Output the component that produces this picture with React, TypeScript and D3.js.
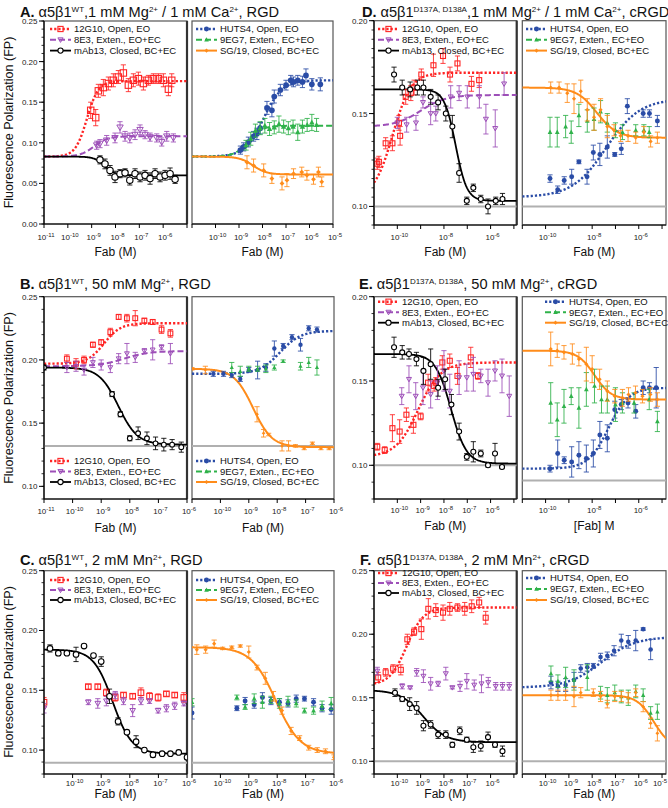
import React from "react";
import * as d3 from "d3";

type Pt = [number, number, number]; // [log10 conc (M), FP, error]
type Fit = [number, number, number, number]; // [FP at low conc, FP at high conc, logEC50, hill]

// ---------- Panel A (WT, 1 mM Mg / 1 mM Ca, RGD) ----------
const A_L_12G10: Pt[] = [[-9.04,0.140,0.010],[-8.83,0.131,0.010],[-8.72,0.164,0.008],[-8.51,0.168,0.010],[-8.30,0.173,0.008],[-8.09,0.177,0.008],[-7.88,0.181,0.008],[-7.67,0.186,0.010],[-7.46,0.171,0.008],[-7.25,0.177,0.008],[-7.04,0.179,0.008],[-6.83,0.173,0.008],[-6.62,0.177,0.006],[-6.41,0.179,0.006],[-6.20,0.179,0.006],[-5.99,0.177,0.008],[-5.78,0.166,0.008],[-5.64,0.177,0.008]];
const A_L_8E3: Pt[] = [[-8.79,0.097,0.005],[-8.65,0.099,0.005],[-8.37,0.103,0.006],[-8.02,0.106,0.006],[-7.81,0.119,0.007],[-7.6,0.108,0.006],[-7.4,0.106,0.006],[-7.18,0.110,0.006],[-6.97,0.116,0.006],[-6.76,0.110,0.005],[-6.55,0.107,0.005],[-6.27,0.106,0.005],[-6.06,0.101,0.005],[-5.85,0.108,0.006],[-5.57,0.106,0.005]];
const A_L_MAB13: Pt[] = [[-8.65,0.079,0.005],[-8.44,0.074,0.006],[-8.23,0.066,0.006],[-8.02,0.058,0.007],[-7.81,0.062,0.005],[-7.6,0.063,0.005],[-7.4,0.054,0.006],[-7.18,0.062,0.006],[-6.97,0.058,0.006],[-6.76,0.060,0.006],[-6.55,0.056,0.007],[-6.34,0.062,0.006],[-6.13,0.058,0.006],[-5.92,0.060,0.006],[-5.71,0.062,0.007],[-5.5,0.055,0.005]];
const A_R_HUTS4: Pt[] = [[-8.94,0.091,0.005],[-8.8,0.095,0.005],[-8.6,0.101,0.006],[-8.38,0.108,0.006],[-8.24,0.111,0.007],[-8.1,0.118,0.007],[-7.81,0.143,0.008],[-7.6,0.140,0.008],[-7.5,0.157,0.008],[-7.24,0.165,0.007],[-7.0,0.171,0.006],[-6.8,0.177,0.006],[-6.68,0.175,0.006],[-6.5,0.177,0.006],[-6.3,0.175,0.007],[-6.15,0.183,0.008],[-5.9,0.172,0.007],[-5.54,0.172,0.008]];
const A_R_9EG7: Pt[] = [[-8.7,0.097,0.006],[-8.5,0.105,0.008],[-8.3,0.115,0.008],[-8.1,0.118,0.008],[-7.9,0.121,0.009],[-7.7,0.117,0.008],[-7.5,0.119,0.008],[-7.3,0.123,0.010],[-7.1,0.120,0.008],[-6.9,0.118,0.008],[-6.7,0.120,0.008],[-6.5,0.113,0.010],[-6.3,0.120,0.008],[-6.1,0.122,0.008],[-5.9,0.125,0.010],[-5.7,0.122,0.008]];
const A_R_SG19: Pt[] = [[-8.66,0.076,0.008],[-8.38,0.072,0.008],[-7.95,0.066,0.008],[-7.6,0.056,0.006],[-7.17,0.050,0.008],[-6.96,0.054,0.008],[-6.68,0.062,0.006],[-6.33,0.064,0.006],[-6.11,0.060,0.006],[-5.83,0.055,0.006],[-5.62,0.064,0.006],[-5.48,0.052,0.006]];
const FIT_A_L_12G10: Fit = [0.083, 0.176, -9.2, 1.8];
const FIT_A_L_8E3: Fit = [0.083, 0.108, -8.9, 1.5];
const FIT_A_L_MAB13: Fit = [0.083, 0.060, -8.45, 2.0];
const FIT_A_R_HUTS4: Fit = [0.083, 0.177, -7.95, 1.1];
const FIT_A_R_9EG7: Fit = [0.083, 0.121, -8.6, 1.5];
const FIT_A_R_SG19: Fit = [0.083, 0.061, -8.4, 1.5];

// ---------- Panel B (WT, 50 mM Mg, RGD) ----------
const B_L_12G10: Pt[] = [[-10.2,0.201,0.003],[-9.88,0.197,0.004],[-9.6,0.200,0.003],[-9.29,0.212,0.002],[-9.0,0.214,0.002],[-8.68,0.222,0.003],[-8.39,0.234,0.002],[-8.1,0.233,0.003],[-7.81,0.233,0.006],[-7.49,0.231,0.002],[-7.2,0.230,0.002],[-6.89,0.224,0.003],[-6.58,0.221,0.003]];
const B_L_8E3: Pt[] = [[-10.2,0.194,0.004],[-9.88,0.195,0.004],[-9.6,0.192,0.004],[-9.29,0.198,0.004],[-9.0,0.196,0.004],[-8.68,0.194,0.004],[-8.39,0.201,0.004],[-8.1,0.205,0.008],[-7.81,0.202,0.004],[-7.49,0.207,0.002],[-7.2,0.208,0.008],[-6.89,0.210,0.002],[-6.58,0.205,0.008]];
const B_L_MAB13: Pt[] = [[-11.0,0.194,0.002],[-8.62,0.173,0.002],[-8.33,0.157,0.002],[-8.0,0.138,0.002],[-7.71,0.142,0.005],[-7.4,0.138,0.005],[-7.1,0.134,0.005],[-6.81,0.133,0.005],[-6.52,0.133,0.004],[-6.2,0.131,0.004]];
const B_R_HUTS4: Pt[] = [[-10.25,0.189,0.002],[-9.89,0.189,0.002],[-9.6,0.188,0.002],[-9.3,0.185,0.002],[-9.0,0.192,0.002],[-8.69,0.192,0.007],[-8.4,0.194,0.003],[-8.1,0.209,0.006],[-7.79,0.211,0.002],[-7.48,0.218,0.002],[-7.18,0.212,0.005],[-6.89,0.225,0.002],[-6.6,0.224,0.002]];
const B_R_9EG7: Pt[] = [[-9.6,0.194,0.004],[-9.3,0.191,0.004],[-9.0,0.193,0.002],[-8.69,0.193,0.002],[-8.4,0.193,0.003],[-8.1,0.194,0.002],[-7.79,0.199,0.001],[-7.18,0.195,0.003],[-6.89,0.198,0.004],[-6.6,0.194,0.006]];
const B_R_SG19: Pt[] = [[-11.0,0.193,0.001],[-10.53,0.192,0.003],[-8.71,0.157,0.006],[-8.48,0.142,0.003],[-8.3,0.141,0.001],[-7.83,0.132,0.004],[-7.6,0.132,0.004],[-7.36,0.132,0.001],[-7.05,0.130,0.001],[-6.76,0.134,0.001],[-6.46,0.130,0.001],[-6.17,0.130,0.001]];
const FIT_B_L_12G10: Fit = [0.197, 0.229, -8.9, 1.5];
const FIT_B_L_8E3: Fit = [0.195, 0.207, -8.2, 1.0];
const FIT_B_L_MAB13: Fit = [0.194, 0.133, -8.4, 1.3];
const FIT_B_R_HUTS4: Fit = [0.189, 0.223, -7.9, 1.2];
const FIT_B_R_SG19: Fit = [0.193, 0.131, -8.85, 1.3];

// ---------- Panel C (WT, 2 mM Mn, RGD) ----------
const C_L_12G10: Pt[] = [[-11.0,0.140,0.004],[-9.45,0.153,0.002],[-9.12,0.153,0.002],[-8.82,0.148,0.003],[-8.51,0.144,0.003],[-8.22,0.146,0.002],[-7.9,0.145,0.002],[-7.61,0.148,0.004],[-7.31,0.145,0.003],[-7.01,0.144,0.003],[-6.72,0.147,0.002],[-6.43,0.146,0.002],[-6.11,0.144,0.004]];
const C_L_8E3: Pt[] = [[-11.0,0.135,0.004],[-9.45,0.140,0.002],[-9.12,0.139,0.004],[-8.82,0.141,0.004],[-8.51,0.146,0.003],[-8.22,0.141,0.003],[-7.9,0.133,0.005],[-7.61,0.141,0.003],[-7.31,0.141,0.002],[-7.01,0.133,0.002],[-6.72,0.135,0.003],[-6.43,0.137,0.003],[-6.11,0.139,0.002]];
const C_L_MAB13: Pt[] = [[-10.79,0.185,0.003],[-10.5,0.181,0.002],[-10.2,0.181,0.001],[-9.88,0.180,0.006],[-9.6,0.187,0.001],[-9.27,0.179,0.001],[-9.0,0.174,0.004],[-8.71,0.145,0.006],[-8.41,0.124,0.003],[-8.1,0.115,0.001],[-7.78,0.107,0.005],[-7.49,0.100,0.001],[-7.19,0.096,0.002],[-6.87,0.097,0.001],[-6.58,0.097,0.001],[-6.29,0.098,0.001],[-6.0,0.094,0.002]];
const C_R_SG19: Pt[] = [[-10.83,0.184,0.004],[-10.52,0.184,0.003],[-10.22,0.189,0.003],[-9.92,0.185,0.001],[-9.6,0.186,0.001],[-9.3,0.187,0.001],[-9.0,0.182,0.005],[-8.71,0.169,0.002],[-8.42,0.160,0.005],[-8.13,0.145,0.004],[-7.83,0.133,0.003],[-7.51,0.116,0.003],[-7.21,0.110,0.002],[-6.89,0.102,0.002],[-6.59,0.100,0.002],[-6.3,0.099,0.002],[-6.0,0.094,0.002]];
const C_R_HUTS4: Pt[] = [[-11.0,0.131,0.005],[-9.42,0.135,0.002],[-9.13,0.141,0.003],[-8.81,0.138,0.003],[-8.52,0.144,0.004],[-8.22,0.141,0.003],[-7.92,0.140,0.003],[-7.62,0.139,0.003],[-7.33,0.143,0.003],[-7.04,0.143,0.002],[-6.72,0.140,0.003],[-6.42,0.135,0.003],[-6.1,0.134,0.004]];
const C_R_9EG7: Pt[] = [[-11.0,0.140,0.003],[-9.42,0.144,0.002],[-9.13,0.136,0.002],[-8.81,0.143,0.004],[-8.52,0.140,0.005],[-8.22,0.142,0.003],[-7.92,0.139,0.004],[-7.62,0.141,0.004],[-7.33,0.139,0.003],[-7.04,0.133,0.002],[-6.72,0.133,0.003],[-6.42,0.137,0.004],[-6.1,0.139,0.005]];
const FIT_C_L_MAB13: Fit = [0.184, 0.097, -8.6, 1.3];
const FIT_C_R_SG19: Fit = [0.186, 0.097, -8.05, 1.0];

// ---------- Panel D (D137A/D138A, 1 mM Mg / 1 mM Ca, cRGD) ----------
const D_L_12G10: Pt[] = [[-10.86,0.123,0.003],[-10.79,0.124,0.003],[-10.5,0.134,0.003],[-10.21,0.134,0.004],[-9.93,0.145,0.004],[-9.88,0.138,0.005],[-9.64,0.159,0.004],[-9.42,0.161,0.004],[-9.28,0.164,0.004],[-8.97,0.171,0.003],[-8.45,0.176,0.006],[-8.04,0.181,0.004],[-7.74,0.171,0.004],[-7.42,0.177,0.004],[-6.82,0.166,0.004],[-6.49,0.168,0.004]];
const D_L_8E3: Pt[] = [[-10.0,0.145,0.003],[-9.6,0.144,0.004],[-9.2,0.145,0.004],[-8.9,0.156,0.003],[-8.57,0.150,0.006],[-8.35,0.150,0.004],[-7.71,0.159,0.006],[-7.35,0.161,0.004],[-7.0,0.159,0.006],[-6.48,0.159,0.006],[-6.2,0.147,0.008],[-5.8,0.142,0.010],[-5.42,0.166,0.006]];
const D_L_MAB13: Pt[] = [[-10.14,0.171,0.004],[-9.79,0.164,0.004],[-9.45,0.163,0.004],[-9.14,0.164,0.004],[-8.88,0.164,0.004],[-8.57,0.159,0.004],[-8.25,0.156,0.004],[-7.92,0.150,0.004],[-7.64,0.143,0.006],[-7.35,0.118,0.005],[-7.02,0.103,0.002],[-6.74,0.110,0.002],[-6.42,0.104,0.002],[-6.11,0.100,0.004],[-5.78,0.103,0.002],[-5.49,0.104,0.003]];
const D_R_SG19: Pt[] = [[-9.78,0.164,0.003],[-9.42,0.164,0.003],[-9.07,0.161,0.005],[-8.78,0.158,0.008],[-8.49,0.162,0.006],[-8.21,0.152,0.006],[-7.92,0.148,0.007],[-7.64,0.152,0.006],[-7.35,0.143,0.006],[-7.06,0.141,0.003],[-6.78,0.138,0.003],[-6.46,0.138,0.003],[-6.13,0.137,0.003],[-5.78,0.140,0.003],[-5.49,0.135,0.003],[-5.2,0.137,0.003]];
const D_R_9EG7: Pt[] = [[-9.81,0.140,0.008],[-9.5,0.140,0.008],[-9.14,0.143,0.006],[-8.9,0.140,0.006],[-8.57,0.149,0.006],[-8.21,0.146,0.006],[-7.92,0.147,0.006],[-7.64,0.151,0.006],[-7.35,0.145,0.005],[-7.0,0.141,0.004],[-6.7,0.140,0.004],[-6.13,0.141,0.003],[-5.78,0.141,0.003],[-5.55,0.140,0.003]];
const D_R_HUTS4: Pt[] = [[-9.81,0.115,0.002],[-9.48,0.109,0.002],[-9.2,0.114,0.002],[-8.88,0.116,0.004],[-8.57,0.124,0.001],[-8.22,0.116,0.004],[-7.95,0.129,0.004],[-7.67,0.128,0.006],[-7.35,0.132,0.006],[-7.03,0.128,0.001],[-6.75,0.131,0.003],[-6.49,0.154,0.004],[-5.81,0.150,0.002],[-5.54,0.150,0.002],[-5.2,0.146,0.003]];
const FIT_D_L_12G10: Fit = [0.105, 0.172, -10.2, 1.1];
const FIT_D_L_8E3: Fit = [0.143, 0.160, -9.0, 0.8];
const FIT_D_L_MAB13: Fit = [0.163, 0.103, -7.5, 1.8];
const FIT_D_R_SG19: Fit = [0.164, 0.137, -7.8, 1.0];
const FIT_D_R_HUTS4: Fit = [0.105, 0.158, -7.4, 0.6];

// ---------- Panel E (D137A/D138A, 50 mM Mg, cRGD) ----------
const E_L_12G10: Pt[] = [[-10.86,0.111,0.002],[-10.54,0.109,0.002],[-10.21,0.122,0.008],[-9.9,0.120,0.007],[-9.61,0.130,0.004],[-9.31,0.124,0.005],[-9.0,0.129,0.002],[-8.68,0.149,0.005],[-8.42,0.147,0.003],[-8.35,0.149,0.003],[-8.07,0.161,0.004],[-7.75,0.162,0.004],[-7.42,0.153,0.005],[-6.85,0.164,0.006],[-6.54,0.153,0.002]];
const E_L_8E3: Pt[] = [[-9.81,0.141,0.005],[-9.5,0.151,0.008],[-9.21,0.141,0.008],[-8.9,0.146,0.010],[-8.57,0.142,0.008],[-8.28,0.149,0.010],[-8.0,0.156,0.012],[-7.75,0.144,0.010],[-7.35,0.152,0.010],[-7.02,0.152,0.008],[-6.74,0.154,0.010],[-6.42,0.153,0.004],[-6.11,0.149,0.008],[-5.81,0.156,0.006],[-5.51,0.153,0.010],[-5.2,0.141,0.012]];
const E_L_MAB13: Pt[] = [[-10.14,0.170,0.006],[-9.79,0.167,0.004],[-9.5,0.166,0.003],[-9.18,0.163,0.004],[-8.88,0.156,0.008],[-8.57,0.160,0.009],[-8.25,0.146,0.005],[-7.95,0.151,0.006],[-7.68,0.136,0.006],[-7.35,0.120,0.005],[-7.02,0.105,0.002],[-6.74,0.108,0.006],[-6.42,0.107,0.002],[-6.11,0.100,0.001],[-5.81,0.107,0.006],[-5.51,0.099,0.001]];
const E_R_SG19: Pt[] = [[-9.78,0.169,0.010],[-9.5,0.168,0.004],[-9.21,0.167,0.004],[-8.85,0.166,0.006],[-8.57,0.163,0.004],[-8.25,0.160,0.010],[-8.0,0.157,0.008],[-7.68,0.151,0.006],[-7.35,0.144,0.006],[-7.03,0.141,0.004],[-6.7,0.140,0.005],[-6.44,0.142,0.004],[-6.14,0.143,0.004],[-5.84,0.141,0.004],[-5.5,0.142,0.004],[-5.2,0.139,0.004]];
const E_R_9EG7: Pt[] = [[-9.78,0.137,0.012],[-9.5,0.127,0.010],[-9.21,0.135,0.010],[-8.9,0.141,0.005],[-8.57,0.134,0.012],[-8.25,0.145,0.010],[-7.9,0.147,0.010],[-7.6,0.139,0.008],[-7.35,0.139,0.008],[-7.0,0.136,0.010],[-6.7,0.137,0.006],[-6.2,0.137,0.006],[-5.55,0.139,0.006],[-5.2,0.126,0.006]];
const E_R_HUTS4: Pt[] = [[-9.81,0.098,0.002],[-9.48,0.107,0.008],[-9.2,0.103,0.002],[-8.88,0.102,0.009],[-8.57,0.106,0.008],[-8.25,0.104,0.008],[-7.95,0.107,0.008],[-7.67,0.118,0.008],[-7.35,0.116,0.008],[-7.03,0.133,0.005],[-6.75,0.136,0.003],[-6.46,0.137,0.003],[-6.13,0.132,0.004],[-5.81,0.146,0.004],[-5.54,0.146,0.003],[-5.25,0.146,0.012]];
const FIT_E_L_12G10: Fit = [0.105, 0.161, -9.1, 0.9];
const FIT_E_L_MAB13: Fit = [0.166, 0.101, -7.7, 1.3];
const FIT_E_R_SG19: Fit = [0.168, 0.139, -7.9, 1.2];
const FIT_E_R_HUTS4: Fit = [0.098, 0.146, -7.3, 1.0];

// ---------- Panel F (D137A/D138A, 2 mM Mn, cRGD) ----------
const F_L_12G10: Pt[] = [[-10.82,0.166,0.004],[-10.5,0.170,0.003],[-10.18,0.173,0.003],[-9.85,0.172,0.004],[-9.57,0.196,0.004],[-9.28,0.202,0.003],[-8.97,0.204,0.008],[-8.67,0.220,0.008],[-8.35,0.219,0.005],[-8.04,0.217,0.006],[-7.75,0.220,0.005],[-7.42,0.221,0.003],[-7.11,0.220,0.005],[-6.81,0.222,0.005],[-6.49,0.225,0.004],[-6.21,0.213,0.005]];
const F_L_8E3: Pt[] = [[-10.86,0.171,0.003],[-9.79,0.159,0.002],[-9.45,0.158,0.001],[-9.17,0.170,0.003],[-8.88,0.167,0.005],[-8.57,0.161,0.005],[-8.25,0.161,0.002],[-7.92,0.169,0.005],[-7.64,0.158,0.001],[-7.31,0.159,0.004],[-7.02,0.163,0.006],[-6.7,0.160,0.004],[-6.39,0.161,0.007],[-6.1,0.162,0.004],[-5.78,0.159,0.003],[-5.49,0.159,0.003],[-5.2,0.159,0.003]];
const F_L_MAB13: Pt[] = [[-10.1,0.154,0.003],[-9.79,0.149,0.002],[-9.47,0.145,0.005],[-9.17,0.142,0.005],[-8.88,0.128,0.004],[-8.57,0.129,0.003],[-8.25,0.121,0.003],[-7.92,0.121,0.003],[-7.64,0.113,0.002],[-7.32,0.124,0.003],[-7.02,0.117,0.002],[-6.74,0.111,0.004],[-6.42,0.112,0.004],[-6.11,0.119,0.004],[-5.81,0.113,0.002],[-5.49,0.108,0.004]];
const F_R_HUTS4: Pt[] = [[-9.77,0.162,0.005],[-9.47,0.159,0.004],[-9.14,0.160,0.005],[-8.78,0.164,0.006],[-8.49,0.173,0.003],[-8.21,0.174,0.003],[-7.95,0.175,0.002],[-7.64,0.182,0.003],[-7.35,0.183,0.003],[-7.06,0.187,0.004],[-6.75,0.195,0.005],[-6.45,0.194,0.005],[-6.13,0.195,0.008],[-5.81,0.204,0.001],[-5.49,0.188,0.008]];
const F_R_9EG7: Pt[] = [[-9.77,0.169,0.006],[-9.47,0.163,0.005],[-9.14,0.166,0.008],[-8.78,0.164,0.008],[-8.21,0.166,0.010],[-7.64,0.154,0.005],[-7.35,0.152,0.006],[-7.03,0.154,0.006],[-6.75,0.151,0.005],[-6.45,0.150,0.006],[-6.13,0.155,0.005],[-5.81,0.152,0.005],[-5.49,0.138,0.005],[-5.2,0.139,0.006]];
const F_R_SG19: Pt[] = [[-9.77,0.152,0.004],[-9.47,0.152,0.004],[-9.14,0.152,0.004],[-8.78,0.151,0.008],[-8.49,0.154,0.004],[-7.95,0.154,0.003],[-7.64,0.151,0.004],[-7.35,0.145,0.003],[-7.03,0.151,0.004],[-6.75,0.151,0.004],[-6.45,0.150,0.004],[-6.13,0.154,0.003],[-5.81,0.143,0.004],[-5.49,0.130,0.004],[-5.2,0.122,0.006]];
const FIT_F_L_12G10: Fit = [0.160, 0.221, -9.6, 1.2];
const FIT_F_L_MAB13: Fit = [0.156, 0.115, -8.9, 0.9];
const FIT_F_R_HUTS4: Fit = [0.158, 0.198, -7.6, 0.6];
const FIT_F_R_SG19: Fit = [0.152, 0.110, -5.35, 1.2];

const LEFT_KEYS = ["12G10", "8E3", "mAb13"];
const RIGHT_KEYS = ["HUTS4", "9EG7", "SG19"];

// ---------- styles ----------
const STYLE: Record<string, { color: string; dash: string | null; mk: string; label: string; w: number }> = {
  "12G10": { color: "#ff2424", dash: "2.2,2", mk: "sq", label: "12G10, Open, EO", w: 2.4 },
  "8E3": { color: "#9d4fb8", dash: "6,3", mk: "tdown", label: "8E3, Exten., EO+EC", w: 2 },
  mAb13: { color: "#000000", dash: null, mk: "circ", label: "mAb13, Closed, BC+EC", w: 1.8 },
  HUTS4: { color: "#2a4ca6", dash: "2.2,2", mk: "dot", label: "HUTS4, Open, EO", w: 2.4 },
  "9EG7": { color: "#2fb24a", dash: "6,3", mk: "tri", label: "9EG7, Exten., EC+EO", w: 2 },
  SG19: { color: "#ff8c1a", dash: null, mk: "dia", label: "SG/19, Closed, BC+EC", w: 2 },
};

const FONT = "'Liberation Sans', Arial, Helvetica, sans-serif";

type Series = { key: string; pts: Pt[]; fit?: Fit };
type Cfg = {
  id: string; x0: number; x1: number; lmin: number; lmax: number;
  yT: number; yB: number; vmin: number; vmax: number;
  yAxis: boolean; yTicks: number[]; minor: number; xLab: number[];
  xTitle: string; xTitleY: number; labOff: number; thick: boolean; ms: number;
  series: Series[]; baseline?: number;
  leg: { x: number; y: number; dy: number; keys: string[] };
};

function Marker({ mk, x, y, color, s }: { mk: string; x: number; y: number; color: string; s: number }) {
  switch (mk) {
    case "sq":
      return <rect x={x - s} y={y - s} width={2 * s} height={2 * s} fill="none" stroke={color} strokeWidth={1.1} />;
    case "tdown":
      return <path d={`M${x - s},${y - s * 0.75}L${x + s},${y - s * 0.75}L${x},${y + s}Z`} fill="none" stroke={color} strokeWidth={1} />;
    case "circ":
      return <circle cx={x} cy={y} r={s} fill="white" stroke={color} strokeWidth={1.1} />;
    case "dot":
      return <circle cx={x} cy={y} r={s * 0.95} fill={color} />;
    case "tri":
      return <path d={`M${x},${y - s}L${x + s * 0.9},${y + s * 0.7}L${x - s * 0.9},${y + s * 0.7}Z`} fill={color} />;
    default:
      return <path d={`M${x},${y - s * 0.8}L${x + s * 0.8},${y}L${x},${y + s * 0.8}L${x - s * 0.8},${y}Z`} fill={color} />;
  }
}

function Subplot({ c }: { c: Cfg }) {
  const xs = d3.scaleLinear().domain([c.lmin, c.lmax]).range([c.x0, c.x1]);
  const ys = d3.scaleLinear().domain([c.vmin, c.vmax]).range([c.yB, c.yT]);
  const logs = d3.range(c.lmin, c.lmax + 1e-9, (c.lmax - c.lmin) / 240);
  const fitPath = (f: Fit) =>
    d3.line<number>().x((l) => xs(l)).y((l) => ys(f[0] + (f[1] - f[0]) / (1 + Math.pow(10, (f[2] - l) * f[3]))))(logs) || "";
  const decades = d3.range(Math.ceil(c.lmin), Math.floor(c.lmax + 1e-9) + 1);
  const minors = c.yAxis ? d3.range(c.vmin, c.vmax + 1e-9, c.minor) : [];
  const clip = `clip-${c.id}`;
  const cx = (c.x0 + c.x1) / 2;
  return (
    <g>
      <defs>
        <clipPath id={clip}>
          <rect x={c.x0} y={c.yT} width={c.x1 - c.x0} height={c.yB - c.yT} />
        </clipPath>
      </defs>
      <rect x={c.x0} y={c.yT} width={c.x1 - c.x0} height={c.yB - c.yT} fill="none" stroke="#555" strokeWidth={1.2} />
      {c.thick && <line x1={c.x1} x2={c.x1} y1={c.yT} y2={c.yB} stroke="#333" strokeWidth={2.2} />}
      <g clipPath={`url(#${clip})`}>
        {c.baseline !== undefined && (
          <line x1={c.x0} x2={c.x1} y1={ys(c.baseline)} y2={ys(c.baseline)} stroke="#b0b0b0" strokeWidth={2} />
        )}
        {c.series.map((s) =>
          s.fit ? (
            <path key={"f" + s.key} d={fitPath(s.fit)} fill="none" stroke={STYLE[s.key].color}
              strokeWidth={STYLE[s.key].w} strokeDasharray={STYLE[s.key].dash || undefined} />
          ) : null
        )}
        {c.series.map((s) => (
          <g key={"p" + s.key}>
            {s.pts.map((p, i) => {
              const x = xs(p[0]);
              const y1 = ys(p[1] + p[2]);
              const y2 = ys(p[1] - p[2]);
              const col = STYLE[s.key].color;
              return (
                <g key={i}>
                  <line x1={x} x2={x} y1={y1} y2={y2} stroke={col} strokeWidth={1} opacity={0.85} />
                  <line x1={x - 2.6} x2={x + 2.6} y1={y1} y2={y1} stroke={col} strokeWidth={1} opacity={0.85} />
                  <line x1={x - 2.6} x2={x + 2.6} y1={y2} y2={y2} stroke={col} strokeWidth={1} opacity={0.85} />
                  <Marker mk={STYLE[s.key].mk} x={x} y={ys(p[1])} color={col} s={c.ms} />
                </g>
              );
            })}
          </g>
        ))}
      </g>
      {/* x axis */}
      <line x1={c.x0} x2={c.x1} y1={c.yB} y2={c.yB} stroke="#000" strokeWidth={1.2} />
      {decades.map((d) => (
        <line key={"xt" + d} x1={xs(d)} x2={xs(d)} y1={c.yB} y2={c.yB + 4} stroke="#000" strokeWidth={1} />
      ))}
      {c.xLab.map((d) => (
        <text key={"xl" + d} x={Math.min(xs(d) + 2, 660)} y={c.yB + c.labOff} textAnchor="middle" fontSize={8} fontFamily={FONT} fill="#222">
          10<tspan dy={-3.5} fontSize={6}>{String(d)}</tspan>
        </text>
      ))}
      <text x={cx} y={c.xTitleY} textAnchor="middle" fontSize={12} fontFamily={FONT} fill="#111">{c.xTitle}</text>
      {/* y axis */}
      {c.yAxis && (
        <g>
          <line x1={c.x0} x2={c.x0} y1={c.yT} y2={c.yB} stroke="#000" strokeWidth={1.2} />
          {minors.map((v, i) => (
            <line key={"ym" + i} x1={c.x0 - 2.5} x2={c.x0} y1={ys(v)} y2={ys(v)} stroke="#000" strokeWidth={0.8} />
          ))}
          {c.yTicks.map((v) => (
            <g key={"yt" + v}>
              <line x1={c.x0 - 5} x2={c.x0} y1={ys(v)} y2={ys(v)} stroke="#000" strokeWidth={1} />
              <text x={c.x0 - 6.5} y={ys(v) + 3} textAnchor="end" fontSize={8} fontFamily={FONT} fill="#222">{v.toFixed(2)}</text>
            </g>
          ))}
        </g>
      )}
      {/* legend */}
      {c.leg.keys.map((k, i) => {
        const st = STYLE[k];
        const y = c.leg.y + i * c.leg.dy;
        return (
          <g key={"lg" + k}>
            <line x1={c.leg.x} x2={c.leg.x + 21} y1={y} y2={y} stroke={st.color} strokeWidth={st.w}
              strokeDasharray={st.dash || undefined} />
            <Marker mk={st.mk} x={c.leg.x + 10.5} y={y} color={st.color} s={2.6} />
            <text x={c.leg.x + 24} y={y + 3.3} fontSize={9.5} fontFamily={FONT} fill="#111">{st.label}</text>
          </g>
        );
      })}
    </g>
  );
}

function Title({ x, y, letter, lw, parts }: { x: number; y: number; letter: string; lw: number; parts: [string, boolean][] }) {
  return (
    <g>
      <text x={x} y={y} fontSize={14.6} fontFamily={FONT} fontWeight="bold" fill="#111">{letter}</text>
      <text x={x + lw} y={y} fontSize={14.6} fontFamily={FONT} fill="#111">
        {parts.map(([t, sup], i) =>
          sup ? (
            <tspan key={i} dy={-5.5} fontSize={8}>{t}</tspan>
          ) : (
            <tspan key={i} dy={i > 0 && parts[i - 1][1] ? 5.5 : 0}>{t}</tspan>
          )
        )}
      </text>
    </g>
  );
}

const T5 = (a: number, b: number) => d3.range(a, b + 1e-9, 0.05).map((v) => Math.round(v * 100) / 100);

export default function App() {
  const L = (id: string, x0: number, x1: number, lmin: number, lmax: number, yT: number, yB: number,
    vmin: number, vmax: number, yAxis: boolean, yTicks: number[], minor: number, xLab: number[], xTitle: string,
    xTitleY: number, labOff: number, thick: boolean, ms: number, series: Series[], baseline: number | undefined,
    leg: { x: number; y: number; dy: number; keys: string[] }): Cfg =>
    ({ id, x0, x1, lmin, lmax, yT, yB, vmin, vmax, yAxis, yTicks, minor, xLab, xTitle, xTitleY, labOff, thick, ms, series, baseline, leg });

  const cfgs: Cfg[] = [
    L("AL", 44, 187, -11, -5, 21, 224, 0, 0.25, true, T5(0, 0.25), 0.01, [-11, -10, -9, -8, -7, -6], "Fab (M)", 256, 16, true, 3.2,
      [{ key: "12G10", pts: A_L_12G10, fit: FIT_A_L_12G10 }, { key: "8E3", pts: A_L_8E3, fit: FIT_A_L_8E3 }, { key: "mAb13", pts: A_L_MAB13, fit: FIT_A_L_MAB13 }],
      undefined, { x: 50, y: 29, dy: 10.8, keys: LEFT_KEYS }),
    L("AR", 192, 333, -11, -5, 21, 224, 0, 0.25, false, [], 0.01, [-10, -9, -8, -7, -6, -5], "Fab (M)", 256, 16, false, 3.0,
      [{ key: "HUTS4", pts: A_R_HUTS4, fit: FIT_A_R_HUTS4 }, { key: "9EG7", pts: A_R_9EG7, fit: FIT_A_R_9EG7 }, { key: "SG19", pts: A_R_SG19, fit: FIT_A_R_SG19 }],
      undefined, { x: 196, y: 29, dy: 10.8, keys: RIGHT_KEYS }),
    L("BL", 44, 187, -11, -6, 296.7, 499, 0.09, 0.25, true, T5(0.1, 0.25), 0.01, [-11, -10, -9, -8, -7, -6], "Fab (M)", 532, 15, true, 2.4,
      [{ key: "12G10", pts: B_L_12G10, fit: FIT_B_L_12G10 }, { key: "8E3", pts: B_L_8E3, fit: FIT_B_L_8E3 }, { key: "mAb13", pts: B_L_MAB13, fit: FIT_B_L_MAB13 }],
      0.132, { x: 50, y: 461, dy: 10.5, keys: LEFT_KEYS }),
    L("BR", 192, 334, -11, -6, 296.7, 499, 0.09, 0.25, false, [], 0.01, [-10, -9, -8, -7, -6], "Fab (M)", 532, 15, false, 2.3,
      [{ key: "HUTS4", pts: B_R_HUTS4, fit: FIT_B_R_HUTS4 }, { key: "9EG7", pts: B_R_9EG7 }, { key: "SG19", pts: B_R_SG19, fit: FIT_B_R_SG19 }],
      0.132, { x: 196, y: 461, dy: 10.5, keys: RIGHT_KEYS }),
    L("CL", 44, 187, -11, -6, 570.7, 774, 0.08, 0.25, true, T5(0.1, 0.25), 0.01, [-10, -9, -8, -7, -6], "Fab (M)", 798, 12, true, 2.8,
      [{ key: "12G10", pts: C_L_12G10 }, { key: "8E3", pts: C_L_8E3 }, { key: "mAb13", pts: C_L_MAB13, fit: FIT_C_L_MAB13 }],
      0.0895, { x: 50, y: 580, dy: 10, keys: LEFT_KEYS }),
    L("CR", 192, 334, -11, -6, 570.7, 774, 0.08, 0.25, false, [], 0.01, [-10, -9, -8, -7, -6], "Fab (M)", 798, 12, false, 2.6,
      [{ key: "HUTS4", pts: C_R_HUTS4 }, { key: "9EG7", pts: C_R_9EG7 }, { key: "SG19", pts: C_R_SG19, fit: FIT_C_R_SG19 }],
      0.0895, { x: 196, y: 580, dy: 10, keys: RIGHT_KEYS }),
    L("DL", 374, 516.7, -11, -4.88, 20.7, 225, 0.09, 0.2, true, [0.1, 0.15, 0.2], 0.005, [-10, -8, -6], "Fab (M)", 256, 15, true, 2.5,
      [{ key: "12G10", pts: D_L_12G10, fit: FIT_D_L_12G10 }, { key: "8E3", pts: D_L_8E3, fit: FIT_D_L_8E3 }, { key: "mAb13", pts: D_L_MAB13, fit: FIT_D_L_MAB13 }],
      0.1, { x: 378, y: 29, dy: 10.8, keys: LEFT_KEYS }),
    L("DR", 522.3, 666, -11, -4.83, 20.7, 225, 0.09, 0.2, false, [], 0.005, [-10, -8, -6], "Fab (M)", 256, 15, false, 2.6,
      [{ key: "HUTS4", pts: D_R_HUTS4, fit: FIT_D_R_HUTS4 }, { key: "9EG7", pts: D_R_9EG7 }, { key: "SG19", pts: D_R_SG19, fit: FIT_D_R_SG19 }],
      0.1, { x: 526, y: 29, dy: 10.8, keys: RIGHT_KEYS }),
    L("EL", 374, 516.7, -11, -4.88, 296.7, 499, 0.08, 0.2, true, [0.1, 0.15, 0.2], 0.01, [-10, -9, -8, -7, -6], "Fab (M)", 530, 14, true, 2.5,
      [{ key: "12G10", pts: E_L_12G10, fit: FIT_E_L_12G10 }, { key: "8E3", pts: E_L_8E3 }, { key: "mAb13", pts: E_L_MAB13, fit: FIT_E_L_MAB13 }],
      0.1, { x: 378, y: 301.7, dy: 10.5, keys: LEFT_KEYS }),
    L("ER", 522.3, 666, -11, -4.83, 296.7, 499, 0.08, 0.2, false, [], 0.01, [-10, -8, -6], "[Fab] M", 530, 14, false, 2.6,
      [{ key: "HUTS4", pts: E_R_HUTS4, fit: FIT_E_R_HUTS4 }, { key: "9EG7", pts: E_R_9EG7 }, { key: "SG19", pts: E_R_SG19, fit: FIT_E_R_SG19 }],
      0.091, { x: 545, y: 301.7, dy: 10.5, keys: RIGHT_KEYS }),
    L("FL", 374, 516.7, -11, -4.88, 570.7, 774, 0.09, 0.25, true, T5(0.1, 0.25), 0.01, [-10, -9, -8, -7, -6], "Fab (M)", 798, 12, true, 2.5,
      [{ key: "12G10", pts: F_L_12G10, fit: FIT_F_L_12G10 }, { key: "8E3", pts: F_L_8E3 }, { key: "mAb13", pts: F_L_MAB13, fit: FIT_F_L_MAB13 }],
      0.1, { x: 378, y: 573, dy: 10, keys: LEFT_KEYS }),
    L("FR", 522.3, 666, -11, -4.83, 570.7, 774, 0.09, 0.25, false, [], 0.01, [-10, -9, -8, -7, -6, -5], "Fab (M)", 798, 12, false, 2.4,
      [{ key: "HUTS4", pts: F_R_HUTS4, fit: FIT_F_R_HUTS4 }, { key: "9EG7", pts: F_R_9EG7 }, { key: "SG19", pts: F_R_SG19, fit: FIT_F_R_SG19 }],
      0.1, { x: 526, y: 578, dy: 11, keys: RIGHT_KEYS }),
  ];

  return (
    <svg width={668} height={808} style={{ position: "absolute", left: 0, top: 0, background: "#fff" }}>
      <rect width={668} height={808} fill="#fff" />
      <Title x={20} y={17} letter="A." lw={18.5} parts={[["α5β1", false], ["WT", true], [",1 mM Mg", false], ["2+", true], [" / 1 mM Ca", false], ["2+", true], [", RGD", false]]} />
      <Title x={20} y={289} letter="B." lw={18.5} parts={[["α5β1", false], ["WT", true], [", 50 mM Mg", false], ["2+", true], [", RGD", false]]} />
      <Title x={20} y={565} letter="C." lw={18.5} parts={[["α5β1", false], ["WT", true], [", 2 mM Mn", false], ["2+", true], [", RGD", false]]} />
      <Title x={362} y={17} letter="D." lw={18.5} parts={[["α5β1", false], ["D137A, D138A", true], [",1 mM Mg", false], ["2+", true], [" / 1 mM Ca", false], ["2+", true], [", cRGD", false]]} />
      <Title x={359} y={289} letter="E." lw={17.8} parts={[["α5β1", false], ["D137A, D138A", true], [", 50 mM Mg", false], ["2+", true], [", cRGD", false]]} />
      <Title x={360} y={565} letter="F." lw={17} parts={[["α5β1", false], ["D137A, D138A", true], [", 2 mM Mn", false], ["2+", true], [", cRGD", false]]} />
      {[122.5, 398, 672].map((cy, i) => (
        <text key={"yl" + i} transform={`translate(12.5,${cy}) rotate(-90)`} textAnchor="middle" fontSize={12.5} fontFamily={FONT} fill="#111">
          Fluorescence Polarization (FP)
        </text>
      ))}
      {cfgs.map((c) => (
        <Subplot key={c.id} c={c} />
      ))}
    </svg>
  );
}
